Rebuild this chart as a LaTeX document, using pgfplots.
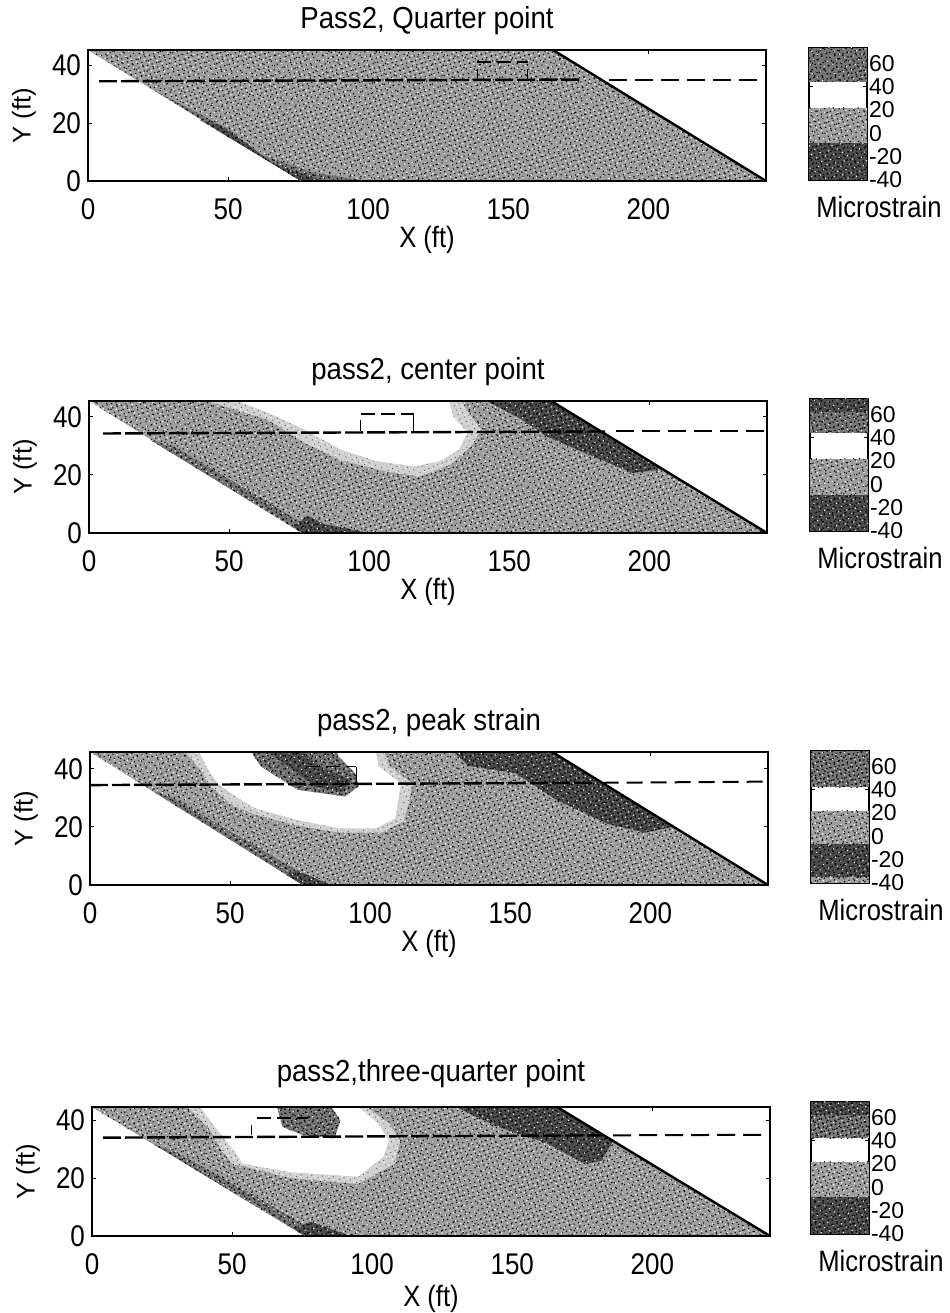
\documentclass[border=0pt]{standalone}
\usepackage{fontspec}
\setmainfont{Liberation Sans}
\usepackage{pgfplots}
\pgfplotsset{compat=1.18}
\usetikzlibrary{patterns.meta}
\definecolor{gA}{gray}{0.62}
\definecolor{gL}{gray}{0.82}
\definecolor{gD}{gray}{0.46}
\definecolor{gK}{gray}{0.30}
\tikzset{
 tex/.style={postaction={pattern={Dots[distance=2.3pt,radius=0.38pt,angle=17]},pattern color=black},
             postaction={pattern={Dots[distance=2.9pt,radius=0.42pt,angle=61]},pattern color=white},
             postaction={pattern={Dots[distance=3.7pt,radius=0.42pt,angle=38]},pattern color=black}},
 texL/.style={postaction={pattern={Dots[distance=2.4pt,radius=0.3pt,angle=23]},pattern color=black!70},
              postaction={pattern={Dots[distance=3.1pt,radius=0.35pt,angle=64]},pattern color=white}},
 texD/.style={postaction={pattern={Dots[distance=2.1pt,radius=0.42pt,angle=13]},pattern color=black},
              postaction={pattern={Dots[distance=3.1pt,radius=0.38pt,angle=57]},pattern color=white},
              postaction={pattern={Dots[distance=2.9pt,radius=0.5pt,angle=36]},pattern color=black}},
}
\pgfplotsset{
 base/.style={scale only axis,tick style={black,line width=0.5pt},
  tick align=inside,major tick length=2pt,
  label style={font=\fontsize{12.8}{15}\selectfont},
  /pgf/number format/assume math mode=true},
 panel/.style={base,axis line style={line width=0.8pt},width=339pt,xmin=0,xmax=242,ymin=0,xtick={0,50,100,150,200},ytick={0,20,40},
  tick label style={font=\fontsize{13}{15}\selectfont,yscale=1.15},
  xlabel={X (ft)},ylabel={Y (ft)},
  xticklabel style={yshift=-4pt},
  title style={font=\fontsize{13.8}{15}\selectfont,at={(axis description cs:0.5,1)},anchor=south,yshift=-2.5pt,yscale=1.1},
  xlabel style={at={(axis description cs:0.5,0)},anchor=center,yshift=-29.5pt,yscale=1.15},
  ylabel style={at={(axis description cs:0,0.5)},anchor=center,yshift=32pt}},
 cbar/.style={base,axis line style={line width=1.1pt},width=29pt,height=66pt,xmin=0,xmax=1,ymin=-40,ymax=73,xtick=\empty,
  ytick={-40,-20,0,20,40,60},yticklabel pos=right,
  tick label style={font=\fontsize{11.5}{11.5}\selectfont},
  yticklabel style={xshift=1pt,inner sep=0pt,outer sep=0pt},
  xlabel={Microstrain},
  xlabel style={at={(axis description cs:0.5,0)},anchor=center,xshift=20.5pt,yshift=-13.5pt,yscale=1.15}},
}
\begin{document}
\begin{tikzpicture}
\path[use as bounding box] (0,0) rectangle (474.5pt,656.5pt);

% ---------- Panel 1
\begin{axis}[panel,at={(44pt,566pt)},anchor=south west,height=65.5pt,ymax=45.2,title={Pass2, Quarter point}]
\addplot[fill=gA,draw=none,tex,forget plot] coordinates {(0,45.2)(166,45.2)(242,0)(76,0)};
\addplot[fill=gD,draw=none,texD,forget plot] coordinates {(24,31)(76,0)(100,0)(80,3)(62,9)(50,18)(36,25)};
\addplot[fill=gK,draw=none,texD,forget plot] coordinates {(40,21)(76,0)(84,0)(66,6)(55,14)(48,19)};
\addplot[black,line width=1.2pt,dash pattern=on 9pt off 2pt,forget plot] coordinates {(4,34.4)(176,35)};
\addplot[black,line width=1pt,dash pattern=on 9pt off 4pt,forget plot] coordinates {(186,35)(242,35)};
\addplot[black,line width=0.9pt,dash pattern=on 7pt off 3pt,forget plot] coordinates {(139,41)(157,41)};
\addplot[black,line width=0.5pt,forget plot] coordinates {(139,35)(139,38.5)};
\addplot[black,line width=0.5pt,forget plot] coordinates {(157,35)(157,38.5)};
\addplot[black,line width=1.3pt,forget plot] coordinates {(0,45.2)(166,45.2)};
\addplot[black,line width=1.3pt,forget plot] coordinates {(76,0)(242,0)};
\addplot[black,line width=1.2pt,forget plot] coordinates {(166,45.2)(242,0)};
\end{axis}
\begin{axis}[cbar,at={(404.5pt,566.5pt)},anchor=south west]
\addplot[fill=gK,draw=none,texD,forget plot] coordinates {(0,-40)(1,-40)(1,-8)(0,-8)};
\addplot[fill=gA,draw=none,tex,forget plot] coordinates {(0,-8)(1,-8)(1,22)(0,22)};
\addplot[fill=gD,draw=none,texD,forget plot] coordinates {(0,44)(1,44)(1,73)(0,73)};
\end{axis}

% ---------- Panel 2
\begin{axis}[panel,at={(44.5pt,390pt)},anchor=south west,height=66pt,ymax=45.5,title={pass2, center point}]
\addplot[fill=gA,draw=none,tex,forget plot] coordinates {(0,45.5)(165,45.5)(242,0)(76,0)};
\addplot[fill=gD,draw=none,texD,forget plot] coordinates {(22,32)(76,0)(82,0)(58,14)(30,30)};
\addplot[fill=gL,draw=none,texL,forget plot] coordinates {(42,45.5)(64,39)(77,31)(90,25)(107,21)(118,19.5)(129,23.5)(136.5,30)(140,35.6)(135.5,41.4)(133,45.5)};
\addplot[fill=white,draw=none,forget plot] coordinates {(53,45.5)(64,41.4)(77,35.6)(90,28.7)(103,24.7)(116,23)(125,24.7)(132,28.7)(135,34.5)(130,40.2)(128.5,45.5)};
\addplot[fill=gK,draw=none,texD,forget plot] coordinates {(142,45.5)(165,45.5)(205,21.9)(194,20.7)(177,27.6)(164,33)(153,40)};
\addplot[fill=gK,draw=none,texD,forget plot] coordinates {(73,2)(76,0)(100,0)(84,3)(78,6)};
\addplot[black,line width=1.2pt,dash pattern=on 9pt off 2pt,forget plot] coordinates {(5,34.3)(185,35)};
\addplot[black,line width=1pt,dash pattern=on 9pt off 4pt,forget plot] coordinates {(188,35)(242,35)};
\addplot[black,line width=0.7pt,dash pattern=on 7pt off 3pt,forget plot] coordinates {(97,41)(116,41)};
\addplot[black,line width=0.5pt,forget plot] coordinates {(97,35)(97,39)};
\addplot[black,line width=0.5pt,forget plot] coordinates {(116,35)(116,41)};
\addplot[black,line width=1.3pt,forget plot] coordinates {(0,45.5)(165,45.5)};
\addplot[black,line width=1.3pt,forget plot] coordinates {(76,0)(242,0)};
\addplot[black,line width=1.2pt,forget plot] coordinates {(165,45.5)(242,0)};
\end{axis}
\begin{axis}[cbar,at={(405pt,391pt)},anchor=south west]
\addplot[fill=gK,draw=none,texD,forget plot] coordinates {(0,-40)(1,-40)(1,-9)(0,-9)};
\addplot[fill=gA,draw=none,tex,forget plot] coordinates {(0,-9)(1,-9)(1,22)(0,22)};
\addplot[fill=gD,draw=none,texD,forget plot] coordinates {(0,44)(1,44)(1,62)(0,62)};
\addplot[fill=gK,draw=none,texD,forget plot] coordinates {(0,62)(1,62)(1,73)(0,73)};
\end{axis}

% ---------- Panel 3
\begin{axis}[panel,at={(45pt,214pt)},anchor=south west,height=66.5pt,ymax=45.8,title={pass2, peak strain}]
\addplot[fill=gA,draw=none,tex,forget plot] coordinates {(0,45.8)(165,45.8)(242,0)(76,0)};
\addplot[fill=gD,draw=none,texD,forget plot] coordinates {(22,32.5)(76,0)(82,0)(58,14)(30,30)};
\addplot[fill=gL,draw=none,texL,forget plot] coordinates {(34,45.8)(40,39)(42,35)(50,28)(58,24.5)(74,20.5)(89,18)(104,18)(112,22)(114,29)(115,35)(107,40.8)(105,45.8)};
\addplot[fill=white,draw=none,forget plot] coordinates {(39,45.8)(42,40)(45.6,35)(52,30.5)(59,26.4)(74,22.4)(89,19.5)(102,19.5)(109,23)(110,29.3)(111,35)(103,40.8)(102,45.8)};
\addplot[fill=gD,draw=none,texD,forget plot] coordinates {(57.6,45.8)(61,40.8)(74,32.8)(91,30.5)(96,34)(94.6,38.5)(89,44)(88,45.8)};
\addplot[fill=gK,draw=none,texD,forget plot] coordinates {(64,45.8)(72,40)(80,34)(90,32)(93,36)(82,41)(76,45.8)};
\addplot[fill=gK,draw=none,texD,forget plot] coordinates {(130,45.8)(165,45.8)(208,20)(198,18)(185,21)(167,29)(152,38.5)(135,41)};
\addplot[fill=gK,draw=none,texD,forget plot] coordinates {(70,3.5)(76,0)(86,0)(74,5)};
\addplot[black,line width=1.2pt,dash pattern=on 9pt off 2pt,forget plot] coordinates {(0,34.4)(180,35.2)};
\addplot[black,line width=1pt,dash pattern=on 8pt off 4pt,forget plot] coordinates {(183,35.2)(242,35.6)};
\addplot[black,line width=0.7pt,dash pattern=on 7pt off 3pt,forget plot] coordinates {(77,40.8)(95,40.8)};
\addplot[black,line width=0.5pt,forget plot] coordinates {(95,35)(95,40.8)};
\addplot[black,line width=1.3pt,forget plot] coordinates {(0,45.8)(165,45.8)};
\addplot[black,line width=1.3pt,forget plot] coordinates {(76,0)(242,0)};
\addplot[black,line width=1.2pt,forget plot] coordinates {(165,45.8)(242,0)};
\end{axis}
\begin{axis}[cbar,at={(405.5pt,215pt)},anchor=south west]
\addplot[fill=gA,draw=none,tex,forget plot] coordinates {(0,-40)(1,-40)(1,-35)(0,-35)};
\addplot[fill=gK,draw=none,texD,forget plot] coordinates {(0,-35)(1,-35)(1,-7)(0,-7)};
\addplot[fill=gA,draw=none,tex,forget plot] coordinates {(0,-7)(1,-7)(1,22)(0,22)};
\addplot[fill=gD,draw=none,texD,forget plot] coordinates {(0,42)(1,42)(1,73)(0,73)};
\end{axis}

% ---------- Panel 4
\begin{axis}[panel,at={(46pt,38.5pt)},anchor=south west,height=64.5pt,ymax=44.6,title={pass2,three-quarter point},
  title style={yshift=2pt},xlabel style={yshift=-1.5pt},]
\addplot[fill=gA,draw=none,tex,forget plot] coordinates {(0,44.6)(166,44.6)(242,0)(76,0)};
\addplot[fill=gD,draw=none,texD,forget plot] coordinates {(22,31.7)(76,0)(82,0)(58,14)(30,29)};
\addplot[fill=gL,draw=none,texL,forget plot] coordinates {(34,44.6)(42,37)(46,30)(50,25)(71,20)(95,18)(108,25)(110,33)(106,39)(98,44.6)};
\addplot[fill=white,draw=none,forget plot] coordinates {(38.7,44.6)(43,38.9)(49.6,30.8)(54,25)(71,22)(95,20.5)(104,27.4)(106,33)(102,39)(95,44.6)};
\addplot[fill=gD,draw=none,texD,forget plot] coordinates {(66,44.6)(68,37.7)(75.6,34.8)(86.5,33.7)(88.7,40)(85.4,44.6)};
\addplot[fill=gK,draw=none,texD,forget plot] coordinates {(130,44.6)(166,44.6)(186,33)(182,26)(176,25)(162.6,32)(145,37.7)};
\addplot[fill=gK,draw=none,texD,forget plot] coordinates {(72,2.5)(76,0)(92,0)(78,5)};
\addplot[black,line width=1.2pt,dash pattern=on 9pt off 2pt,forget plot] coordinates {(4,34)(182,34.8)};
\addplot[black,line width=1pt,dash pattern=on 9pt off 4pt,forget plot] coordinates {(186,34.8)(242,35)};
\addplot[black,line width=0.9pt,dash pattern=on 7pt off 3pt,forget plot] coordinates {(59,40.9)(77,40.9)};
\addplot[black,line width=0.5pt,forget plot] coordinates {(57,35)(57,38.5)};
\addplot[black,line width=1.3pt,forget plot] coordinates {(0,44.6)(166,44.6)};
\addplot[black,line width=1.3pt,forget plot] coordinates {(76,0)(242,0)};
\addplot[black,line width=1.2pt,forget plot] coordinates {(166,44.6)(242,0)};
\end{axis}
\begin{axis}[cbar,at={(405.5pt,39.5pt)},anchor=south west]
\addplot[fill=gK,draw=none,texD,forget plot] coordinates {(0,-40)(1,-40)(1,-8)(0,-8)};
\addplot[fill=gA,draw=none,tex,forget plot] coordinates {(0,-8)(1,-8)(1,22)(0,22)};
\addplot[fill=gD,draw=none,texD,forget plot] coordinates {(0,42)(1,42)(1,62)(0,62)};
\addplot[fill=gK,draw=none,texD,forget plot] coordinates {(0,62)(1,62)(1,73)(0,73)};
\end{axis}
\end{tikzpicture}
\end{document}
